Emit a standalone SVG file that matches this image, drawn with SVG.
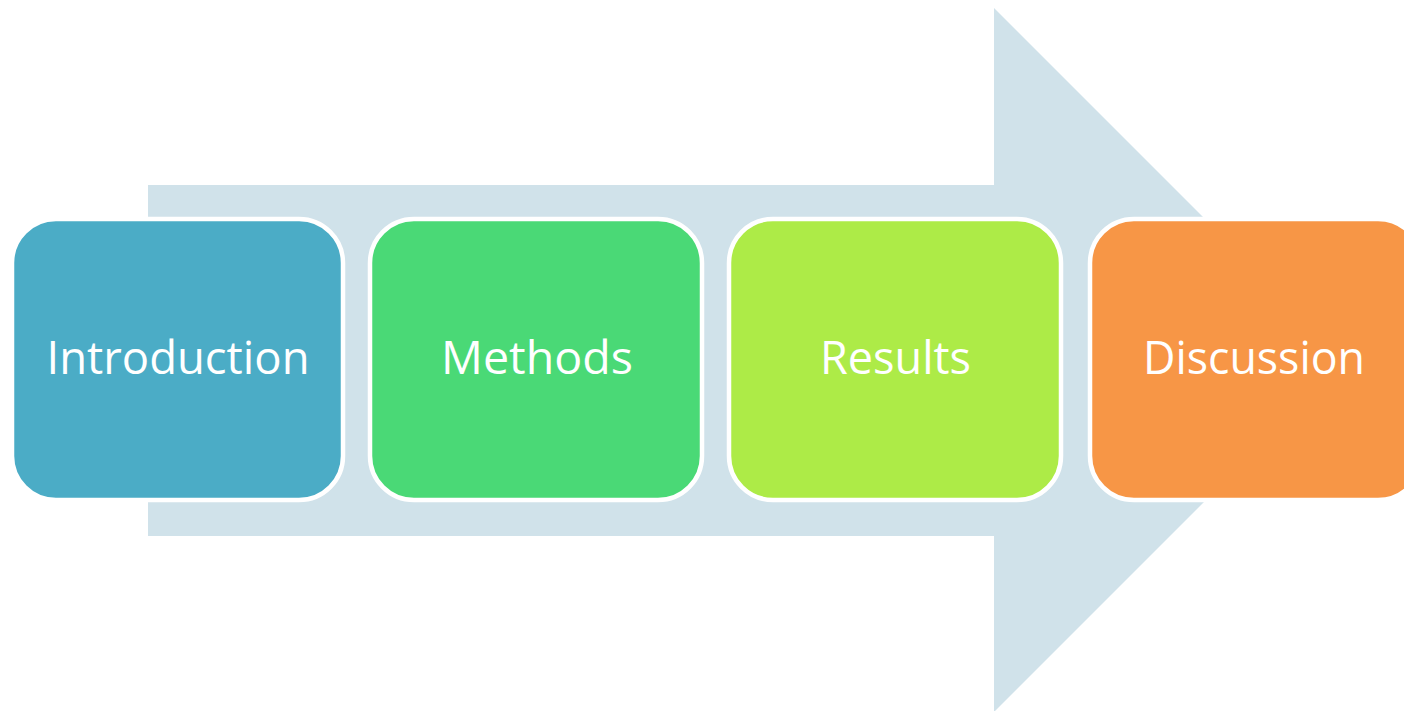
<svg xmlns="http://www.w3.org/2000/svg" width="1404" height="711" viewBox="0 0 1404 711">
<style>
.box{stroke:#ffffff;stroke-width:4.5}
.lbl{font-family:"Open Sans","Liberation Sans",sans-serif;font-size:45px;fill:#ffffff;text-anchor:middle}
</style>
<rect width="1404" height="711" fill="#ffffff"/>
<g id="arrow">
<polygon points="148,185 994,185 994,8 1346,360 994,712 994,536 148,536" fill="#D0E2EA"/>
</g>
<g id="connectors"></g>
<g id="introduction">
<rect class="box" x="12" y="219" width="331" height="281" rx="44" fill="#4BACC6"/>
<text class="lbl" x="178" y="374" textLength="263" lengthAdjust="spacingAndGlyphs">Introduction</text>
</g>
<g id="methods">
<rect class="box" x="370" y="219" width="332" height="281" rx="44" fill="#4AD976"/>
<text class="lbl" x="537" y="374" textLength="192" lengthAdjust="spacingAndGlyphs">Methods</text>
</g>
<g id="results">
<rect class="box" x="729" y="219" width="332" height="281" rx="44" fill="#ADEB47"/>
<text class="lbl" x="895.5" y="374" textLength="151" lengthAdjust="spacingAndGlyphs">Results</text>
</g>
<g id="discussion">
<rect class="box" x="1090" y="219" width="332" height="281" rx="44" fill="#F79646"/>
<text class="lbl" x="1254" y="374" textLength="222" lengthAdjust="spacingAndGlyphs">Discussion</text>
</g>
</svg>
